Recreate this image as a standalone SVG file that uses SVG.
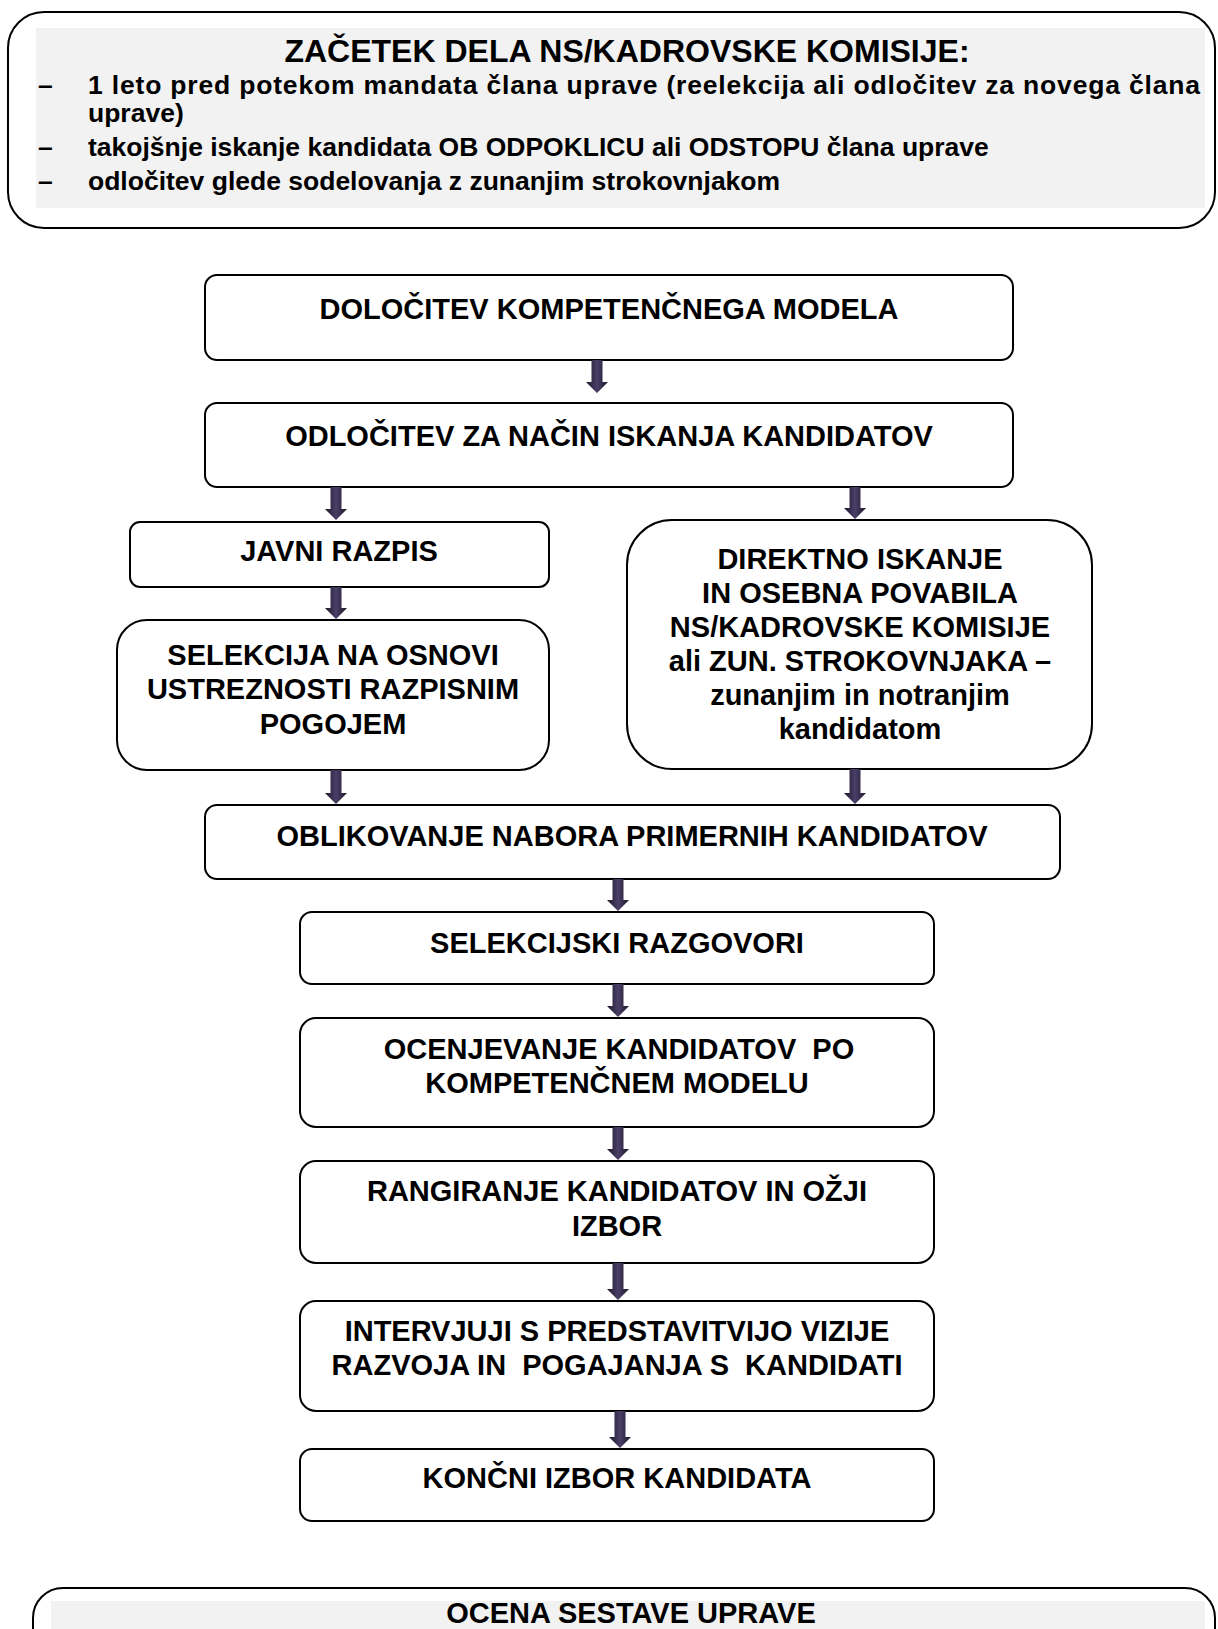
<svg xmlns="http://www.w3.org/2000/svg" width="1218" height="1629" viewBox="0 0 1218 1629">
<defs>
<style>
.box{fill:#fff;stroke:#000;stroke-width:2}
.grey{fill:#f2f2f2;stroke:none}
.t{font-family:"Liberation Sans",Arial,sans-serif;font-weight:bold;font-size:29px;text-anchor:middle;fill:#000;white-space:pre}
.b{font-family:"Liberation Sans",Arial,sans-serif;font-weight:bold;font-size:26.5px;fill:#000;white-space:pre}
.h{font-family:"Liberation Sans",Arial,sans-serif;font-weight:bold;font-size:32px;text-anchor:middle;fill:#000}
.arr{fill:url(#ag)}
</style>
<linearGradient id="ag" x1="0" y1="0" x2="1" y2="0">
<stop offset="0" stop-color="#1c1828"/>
<stop offset="0.5" stop-color="#4a3f68"/>
<stop offset="1" stop-color="#1c1828"/>
</linearGradient>
</defs>

<g id="start">
<rect class="box" x="8" y="12" width="1207" height="216" rx="36"/>
<rect class="grey" x="36" y="28" width="1169" height="180"/>
<text class="h" x="627" y="62">ZAČETEK DELA NS/KADROVSKE KOMISIJE:</text>
<text class="b" x="38" y="94">–</text>
<text class="b" x="88" y="94" textLength="1112" lengthAdjust="spacing">1 leto pred potekom mandata člana uprave (reelekcija ali odločitev za novega člana</text>
<text class="b" x="88" y="122">uprave)</text>
<text class="b" x="38" y="156">–</text>
<text class="b" x="88" y="156">takojšnje iskanje kandidata OB ODPOKLICU ali ODSTOPU člana uprave</text>
<text class="b" x="38" y="190">–</text>
<text class="b" x="88" y="190">odločitev glede sodelovanja z zunanjim strokovnjakom</text>
</g>

<g id="n1">
<rect class="box" x="205" y="275" width="808" height="85" rx="12"/>
<text class="t" x="609" y="319">DOLOČITEV KOMPETENČNEGA MODELA</text>
</g>
<g id="n2">
<rect class="box" x="205" y="403" width="808" height="84" rx="12"/>
<text class="t" x="609" y="446">ODLOČITEV ZA NAČIN ISKANJA KANDIDATOV</text>
</g>
<g id="n3">
<rect class="box" x="130" y="522" width="419" height="65" rx="10"/>
<text class="t" x="339" y="561">JAVNI RAZPIS</text>
</g>
<g id="n4">
<rect class="box" x="117" y="620" width="432" height="150" rx="30"/>
<text class="t" x="333" y="665">SELEKCIJA NA OSNOVI</text>
<text class="t" x="333" y="699">USTREZNOSTI RAZPISNIM</text>
<text class="t" x="333" y="734">POGOJEM</text>
</g>
<g id="n5">
<rect class="box" x="627" y="520" width="465" height="249" rx="45"/>
<text class="t" x="860" y="569">DIREKTNO ISKANJE</text>
<text class="t" x="860" y="603">IN OSEBNA POVABILA</text>
<text class="t" x="860" y="637">NS/KADROVSKE KOMISIJE</text>
<text class="t" x="860" y="671">ali ZUN. STROKOVNJAKA –</text>
<text class="t" x="860" y="705">zunanjim in notranjim</text>
<text class="t" x="860" y="739">kandidatom</text>
</g>
<g id="n6">
<rect class="box" x="205" y="805" width="855" height="74" rx="12"/>
<text class="t" x="632" y="846">OBLIKOVANJE NABORA PRIMERNIH KANDIDATOV</text>
</g>
<g id="n7">
<rect class="box" x="300" y="912" width="634" height="72" rx="12"/>
<text class="t" x="617" y="953">SELEKCIJSKI RAZGOVORI</text>
</g>
<g id="n8">
<rect class="box" x="300" y="1018" width="634" height="109" rx="16"/>
<text class="t" x="619" y="1059">OCENJEVANJE KANDIDATOV  PO</text>
<text class="t" x="617" y="1093">KOMPETENČNEM MODELU</text>
</g>
<g id="n9">
<rect class="box" x="300" y="1161" width="634" height="102" rx="16"/>
<text class="t" x="617" y="1201">RANGIRANJE KANDIDATOV IN OŽJI</text>
<text class="t" x="617" y="1236">IZBOR</text>
</g>
<g id="n10">
<rect class="box" x="300" y="1301" width="634" height="110" rx="16"/>
<text class="t" x="617" y="1341">INTERVJUJI S PREDSTAVITVIJO VIZIJE</text>
<text class="t" x="617" y="1375">RAZVOJA IN  POGAJANJA S  KANDIDATI</text>
</g>
<g id="n11">
<rect class="box" x="300" y="1449" width="634" height="72" rx="12"/>
<text class="t" x="617" y="1488">KONČNI IZBOR KANDIDATA</text>
</g>

<g id="end">
<rect class="box" x="33" y="1588" width="1182" height="120" rx="30"/>
<rect class="grey" x="51" y="1601" width="1154" height="40"/>
<text class="t" x="631" y="1623">OCENA SESTAVE UPRAVE</text>
</g>

<g id="connectors">
<path class="arr" d="M591.5 360H602.5V382H608L597 393L586 382H591.5Z"/>
<path class="arr" d="M330.5 487H341.5V509H347L336 520L325 509H330.5Z"/>
<path class="arr" d="M849.5 487H860.5V508H866L855 519L844 508H849.5Z"/>
<path class="arr" d="M330.5 587H341.5V608H347L336 619L325 608H330.5Z"/>
<path class="arr" d="M330.5 770H341.5V793H347L336 804L325 793H330.5Z"/>
<path class="arr" d="M849.5 769H860.5V793H866L855 804L844 793H849.5Z"/>
<path class="arr" d="M612.5 879H623.5V900H629L618 911L607 900H612.5Z"/>
<path class="arr" d="M612.5 984H623.5V1006H629L618 1017L607 1006H612.5Z"/>
<path class="arr" d="M612.5 1127H623.5V1149H629L618 1160L607 1149H612.5Z"/>
<path class="arr" d="M612.5 1263H623.5V1289H629L618 1300L607 1289H612.5Z"/>
<path class="arr" d="M614.5 1411H625.5V1437H631L620 1448L609 1437H614.5Z"/>
</g>
</svg>
